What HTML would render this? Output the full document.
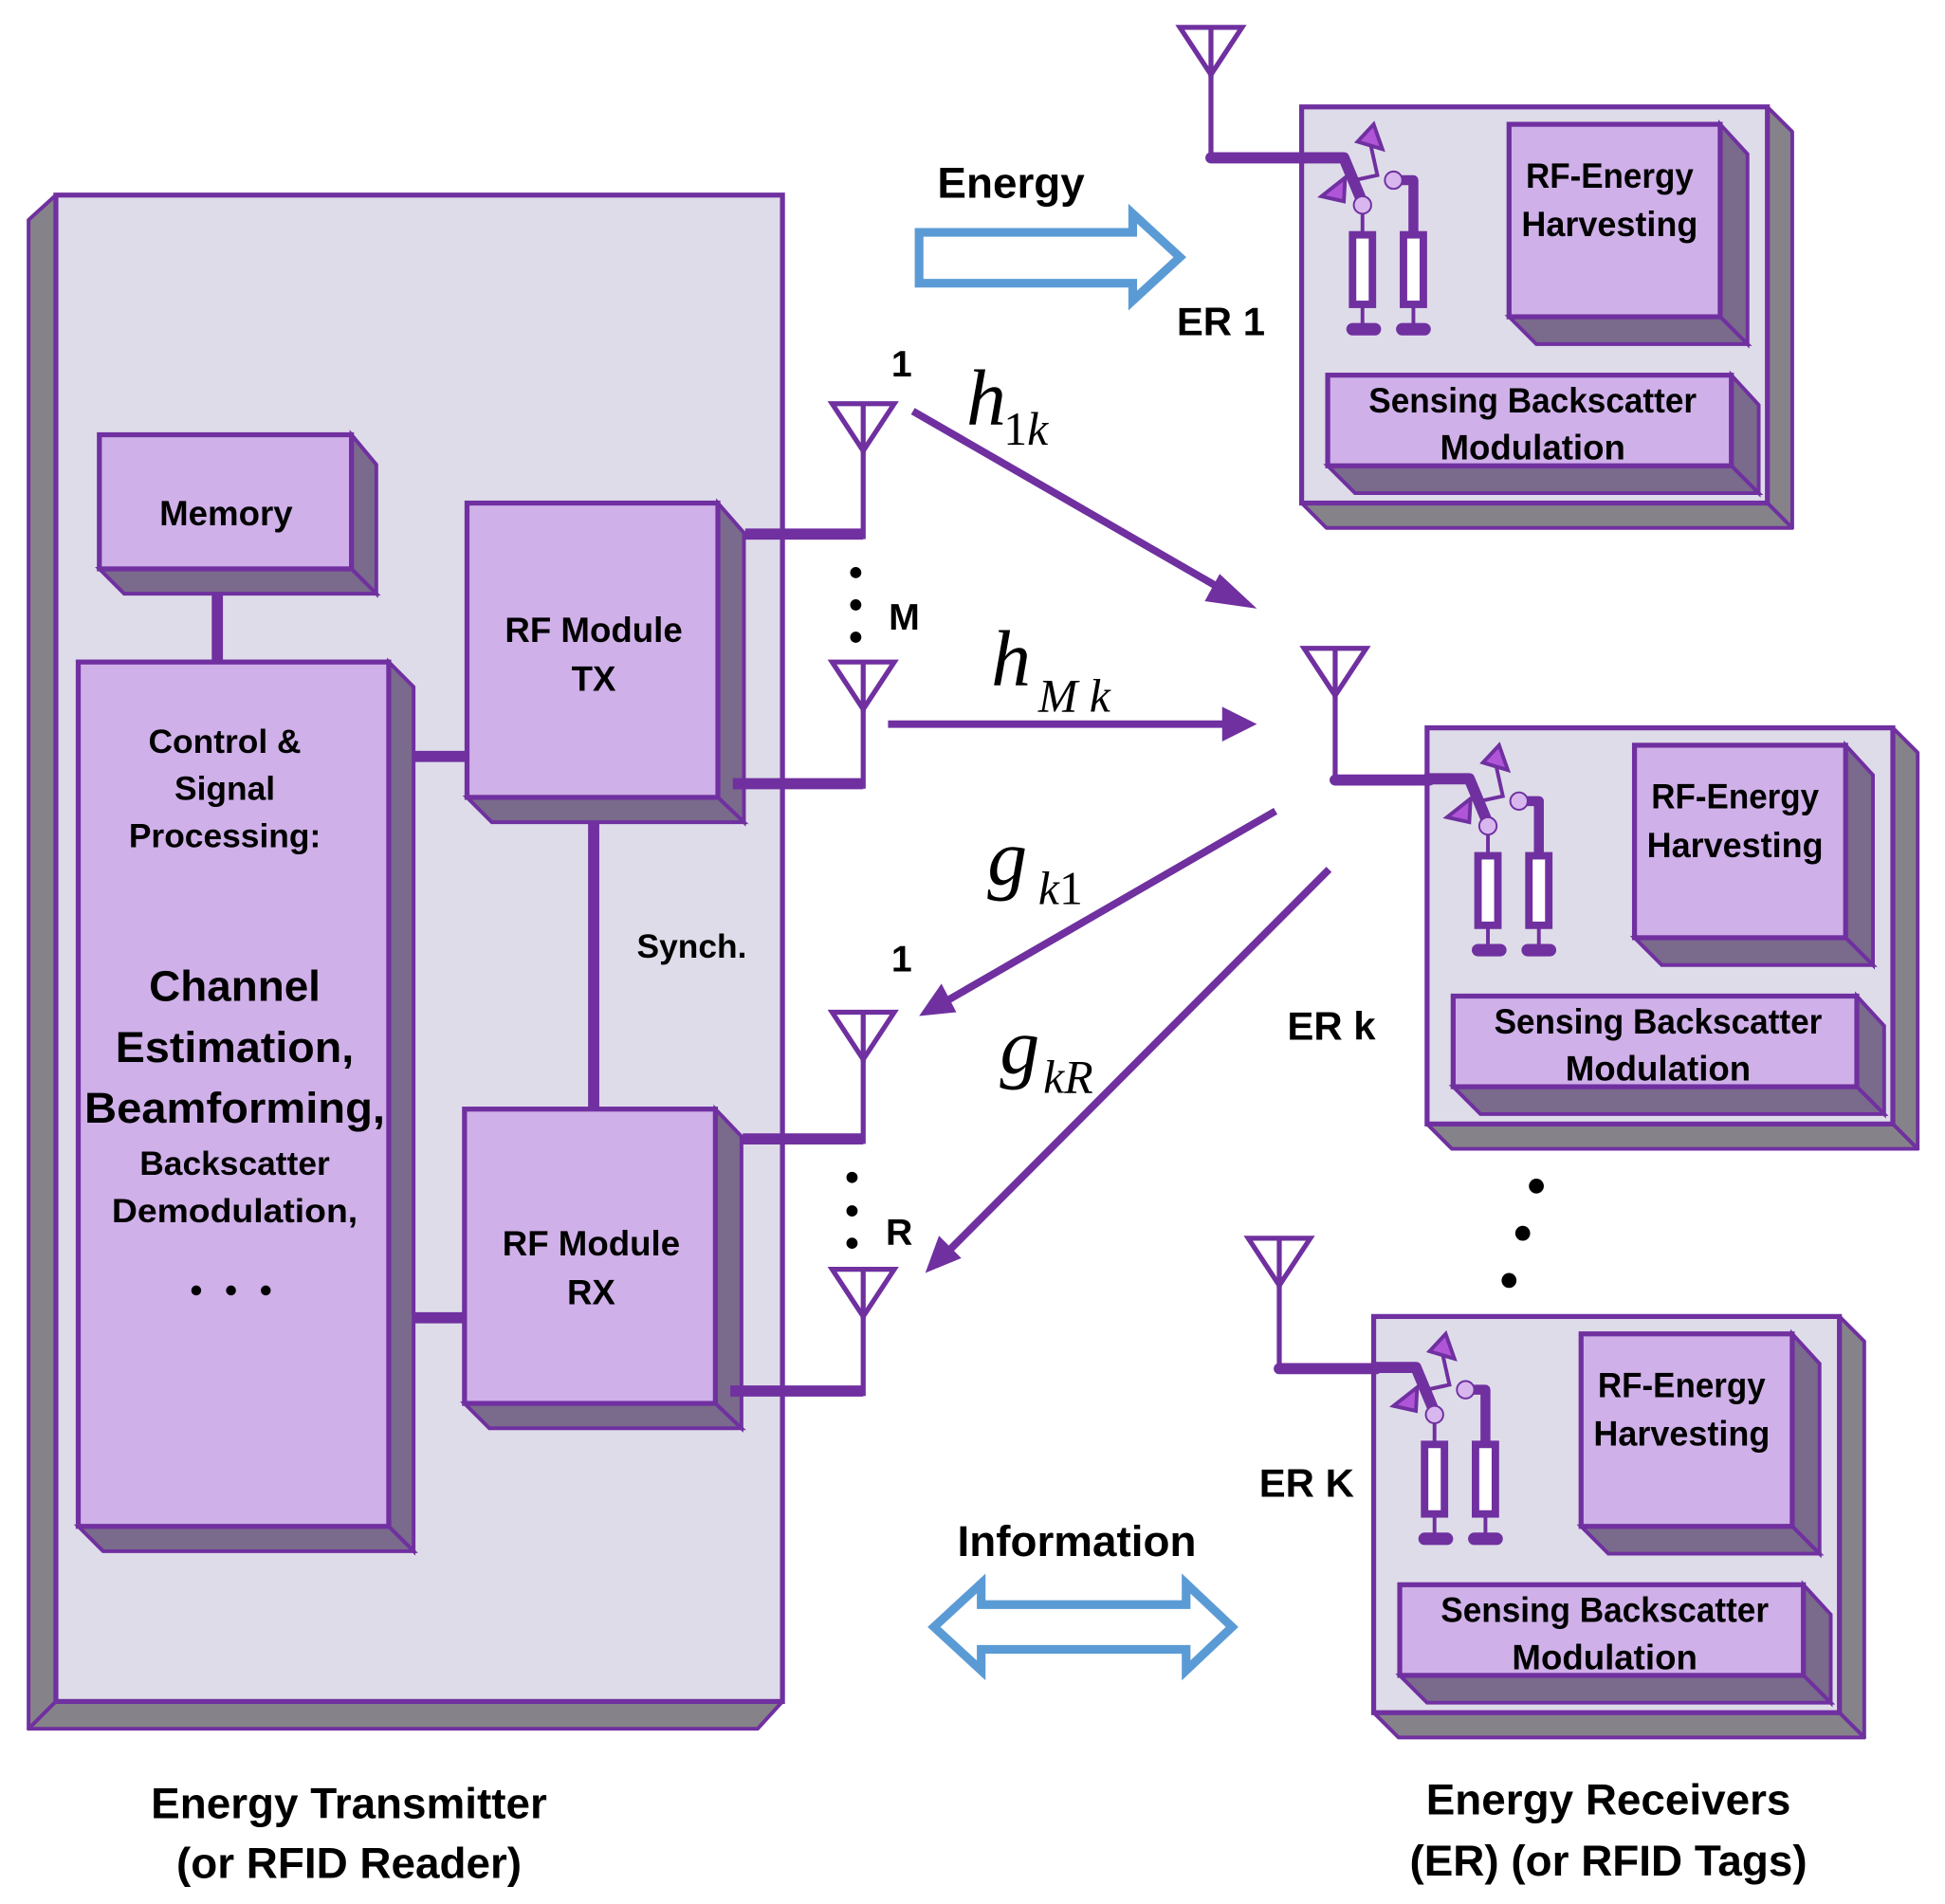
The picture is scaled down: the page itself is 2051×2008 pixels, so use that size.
<!DOCTYPE html>
<html><head><meta charset="utf-8"><style>
html,body{margin:0;padding:0;background:#fff;}
svg{display:block;}
text{font-family:"Liberation Sans",sans-serif;font-weight:bold;fill:#000;}
.m{font-family:"Liberation Serif",serif;font-style:italic;font-weight:normal;}
</style></head><body>
<svg width="2051" height="2008" viewBox="0 0 1566 1533" xmlns="http://www.w3.org/2000/svg">
<defs>
<g id="er">
  <polygon points="375,0 395,20 395,339 375,319" fill="#858389" stroke="#7030a0" stroke-width="3" stroke-linejoin="round"/>
  <polygon points="0,319 375,319 395,339 20,339" fill="#858389" stroke="#7030a0" stroke-width="3" stroke-linejoin="round"/>
  <rect x="0" y="0" width="375" height="319" fill="#dedce9" stroke="#7030a0" stroke-width="4"/>
  <polygon points="337,14 359,38 359,191 337,169" fill="#7a6a8b" stroke="#7030a0" stroke-width="3"/>
  <polygon points="167,169 337,169 359,191 189,191" fill="#7a6a8b" stroke="#7030a0" stroke-width="3"/>
  <rect x="167" y="14" width="170" height="155" fill="#cfb0e8" stroke="#7030a0" stroke-width="4"/>
  <polygon points="346,216 368,240 368,311 346,289" fill="#7a6a8b" stroke="#7030a0" stroke-width="3"/>
  <polygon points="21,289 346,289 368,311 43,311" fill="#7a6a8b" stroke="#7030a0" stroke-width="3"/>
  <rect x="21" y="216" width="325" height="73" fill="#cfb0e8" stroke="#7030a0" stroke-width="4"/>
  <polyline points="-2,41 34,41 49,77" fill="none" stroke="#7030a0" stroke-width="9" stroke-linejoin="round"/>
  <polyline points="38,60 61,55 55,28" fill="none" stroke="#7030a0" stroke-width="3"/>
  <polygon points="45,28 58,14 65,34" fill="#b055d8" stroke="#7030a0" stroke-width="3"/>
  <polygon points="16,72 35,57 34,76" fill="#b055d8" stroke="#7030a0" stroke-width="3"/>
  <circle cx="49" cy="79" r="7" fill="#d8b6ee" stroke="#7030a0" stroke-width="1.5"/>
  <line x1="49" y1="86" x2="49" y2="103" stroke="#7030a0" stroke-width="3"/>
  <rect x="41" y="103" width="16" height="56" fill="#fff" stroke="#7030a0" stroke-width="6"/>
  <line x1="49" y1="159" x2="49" y2="176" stroke="#7030a0" stroke-width="3"/>
  <rect x="36" y="174" width="28" height="10" rx="5" fill="#7030a0"/>
  <polyline points="78,59 90,59 90,103" fill="none" stroke="#7030a0" stroke-width="8" stroke-linejoin="round"/>
  <circle cx="74" cy="59" r="7" fill="#d8b6ee" stroke="#7030a0" stroke-width="1.5"/>
  <rect x="82" y="103" width="16" height="56" fill="#fff" stroke="#7030a0" stroke-width="6"/>
  <line x1="90" y1="159" x2="90" y2="176" stroke="#7030a0" stroke-width="3"/>
  <rect x="76" y="174" width="28" height="10" rx="5" fill="#7030a0"/>
</g>
<g id="ant">
  <polygon points="-25,0 25,0 0,38" fill="none" stroke="#7030a0" stroke-width="4" stroke-linejoin="miter"/>
  <line x1="0" y1="0" x2="0" y2="40" stroke="#7030a0" stroke-width="4"/>
</g>
</defs>

<polygon points="45,157 23,177 23,1392 45,1370" fill="#858389" stroke="#7030a0" stroke-width="3" stroke-linejoin="round"/>
<polygon points="45,1370 630,1370 610,1392 23,1392" fill="#858389" stroke="#7030a0" stroke-width="3" stroke-linejoin="round"/>
<rect x="45" y="157" width="585" height="1213" fill="#dedce9" stroke="#7030a0" stroke-width="4"/>

<line x1="175" y1="462" x2="175" y2="535" stroke="#7030a0" stroke-width="9" stroke-linecap="round"/>
<line x1="322" y1="609" x2="378" y2="609" stroke="#7030a0" stroke-width="9" stroke-linecap="round"/>
<line x1="322" y1="1061" x2="378" y2="1061" stroke="#7030a0" stroke-width="9" stroke-linecap="round"/>
<line x1="478" y1="652" x2="478" y2="893" stroke="#7030a0" stroke-width="9" stroke-linecap="round"/>

<polygon points="283,350 303,374 303,478 283,458" fill="#7a6a8b" stroke="#7030a0" stroke-width="3"/>
<polygon points="80,458 283,458 303,478 100,478" fill="#7a6a8b" stroke="#7030a0" stroke-width="3"/>
<rect x="80" y="350" width="203" height="108" fill="#cfb0e8" stroke="#7030a0" stroke-width="4"/>
<polygon points="313,533 333,553 333,1249 313,1229" fill="#7a6a8b" stroke="#7030a0" stroke-width="3"/>
<polygon points="63,1229 313,1229 333,1249 83,1249" fill="#7a6a8b" stroke="#7030a0" stroke-width="3"/>
<rect x="63" y="533" width="250" height="696" fill="#cfb0e8" stroke="#7030a0" stroke-width="4"/>
<polygon points="578,405 599,429 599,662 578,642" fill="#7a6a8b" stroke="#7030a0" stroke-width="3"/>
<polygon points="376,642 578,642 599,662 396,662" fill="#7a6a8b" stroke="#7030a0" stroke-width="3"/>
<rect x="376" y="405" width="202" height="237" fill="#cfb0e8" stroke="#7030a0" stroke-width="4"/>
<polygon points="576,893 597,915 597,1150 576,1130" fill="#7a6a8b" stroke="#7030a0" stroke-width="3"/>
<polygon points="374,1130 576,1130 597,1150 394,1150" fill="#7a6a8b" stroke="#7030a0" stroke-width="3"/>
<rect x="374" y="893" width="202" height="237" fill="#cfb0e8" stroke="#7030a0" stroke-width="4"/>

<g fill="none" stroke="#7030a0" stroke-width="9" stroke-linejoin="miter">
<polyline points="600,430 695,430"/>
<polyline points="590,631 695,631"/>
<polyline points="598,917 695,917"/>
<polyline points="588,1120 695,1120"/>
</g>
<g stroke="#7030a0" stroke-width="4">
<line x1="695" y1="360" x2="695" y2="434"/>
<line x1="695" y1="568" x2="695" y2="635"/>
<line x1="695" y1="850" x2="695" y2="921"/>
<line x1="695" y1="1057" x2="695" y2="1124"/>
</g>
<use href="#ant" x="695" y="325"/>
<use href="#ant" x="695" y="533"/>
<use href="#ant" x="695" y="815"/>
<use href="#ant" x="695" y="1022"/>

<use href="#er" x="1048" y="86"/>
<use href="#er" x="1149" y="586"/>
<use href="#er" x="1106" y="1060"/>

<g fill="none" stroke="#7030a0" stroke-width="4">
<line x1="975" y1="55" x2="975" y2="127"/>
<line x1="1075" y1="557" x2="1075" y2="628"/>
<line x1="1030" y1="1032" x2="1030" y2="1102"/>
</g>
<g stroke="#7030a0" stroke-width="9" stroke-linecap="round">
<line x1="975" y1="127" x2="1050" y2="127"/>
<line x1="1075" y1="628" x2="1151" y2="628"/>
<line x1="1030" y1="1102" x2="1108" y2="1102"/>
</g>
<use href="#ant" x="975" y="22"/>
<use href="#ant" x="1075" y="522"/>
<use href="#ant" x="1030" y="997"/>

<g stroke="#7030a0" stroke-width="6" fill="#7030a0">
<line x1="735" y1="331" x2="990" y2="478"/>
<polygon points="1012,490 982,462 970,484" stroke="none"/>
<line x1="715" y1="583" x2="985" y2="583"/>
<polygon points="1012,583 984,569 984,597" stroke="none"/>
<line x1="1027" y1="653" x2="762" y2="806"/>
<polygon points="740,818 758,792 770,815" stroke="none"/>
<line x1="1070" y1="700" x2="765" y2="1006"/>
<polygon points="745,1025 756,995 774,1013" stroke="none"/>
</g>

<polygon points="740,187 912,187 912,172 950,207 912,242 912,228 740,228" fill="#fff" stroke="#5b9bd5" stroke-width="7" stroke-linejoin="miter"/>
<polygon points="752,1310 790,1275 790,1292 955,1292 955,1275 992,1310 955,1345 955,1328 790,1328 790,1345" fill="#fff" stroke="#5b9bd5" stroke-width="7" stroke-linejoin="miter"/>

<g fill="#000">
<circle cx="689" cy="461" r="4.5"/><circle cx="689" cy="487" r="4.5"/><circle cx="689" cy="513" r="4.5"/>
<circle cx="686" cy="948" r="4.5"/><circle cx="686" cy="975" r="4.5"/><circle cx="686" cy="1001" r="4.5"/>
<circle cx="1237" cy="955" r="6"/><circle cx="1226" cy="993" r="6"/><circle cx="1215" cy="1031" r="6"/>
<circle cx="158" cy="1039" r="4"/><circle cx="186" cy="1039" r="4"/><circle cx="214" cy="1039" r="4"/>
</g>

<g text-anchor="middle">
<text x="182" y="423" font-size="28">Memory</text>
<text x="478" y="517" font-size="28">RF Module</text>
<text x="478" y="556" font-size="28">TX</text>
<text x="476" y="1011" font-size="28">RF Module</text>
<text x="476" y="1050" font-size="28">RX</text>
<text x="181" y="606" font-size="27">Control &amp;</text>
<text x="181" y="644" font-size="27">Signal</text>
<text x="181" y="682" font-size="27">Processing:</text>
<text x="189" y="806" font-size="35">Channel</text>
<text x="189" y="855" font-size="35" textLength="192" lengthAdjust="spacingAndGlyphs">Estimation,</text>
<text x="189" y="904" font-size="35" textLength="242" lengthAdjust="spacingAndGlyphs">Beamforming,</text>
<text x="189" y="946" font-size="27">Backscatter</text>
<text x="189" y="984" font-size="27" textLength="198" lengthAdjust="spacingAndGlyphs">Demodulation,</text>
<text x="557" y="771" font-size="27">Synch.</text>
<text x="814" y="159" font-size="35">Energy</text>
<text x="867" y="1253" font-size="35">Information</text>
<text x="983" y="270" font-size="32">ER 1</text>
<text x="1072" y="837" font-size="32">ER k</text>
<text x="1052" y="1205" font-size="32">ER K</text>
<text x="726" y="303" font-size="30">1</text>
<text x="728" y="507" font-size="30">M</text>
<text x="726" y="782" font-size="30">1</text>
<text x="724" y="1002" font-size="30">R</text>
<text x="281" y="1464" font-size="35">Energy Transmitter</text>
<text x="281" y="1512" font-size="35">(or RFID Reader)</text>
<text x="1295" y="1461" font-size="35">Energy Receivers</text>
<text x="1295" y="1510" font-size="35">(ER) (or RFID Tags)</text>
</g>
<g text-anchor="middle" font-size="28">
<text x="1296" y="151" textLength="135" lengthAdjust="spacingAndGlyphs">RF-Energy</text>
<text x="1296" y="190" textLength="142" lengthAdjust="spacingAndGlyphs">Harvesting</text>
<text x="1234" y="332" textLength="264" lengthAdjust="spacingAndGlyphs">Sensing Backscatter</text>
<text x="1234" y="370">Modulation</text>
<text x="1397" y="651" textLength="135" lengthAdjust="spacingAndGlyphs">RF-Energy</text>
<text x="1397" y="690" textLength="142" lengthAdjust="spacingAndGlyphs">Harvesting</text>
<text x="1335" y="832" textLength="264" lengthAdjust="spacingAndGlyphs">Sensing Backscatter</text>
<text x="1335" y="870">Modulation</text>
<text x="1354" y="1125" textLength="135" lengthAdjust="spacingAndGlyphs">RF-Energy</text>
<text x="1354" y="1164" textLength="142" lengthAdjust="spacingAndGlyphs">Harvesting</text>
<text x="1292" y="1306" textLength="264" lengthAdjust="spacingAndGlyphs">Sensing Backscatter</text>
<text x="1292" y="1344">Modulation</text>
</g>
<text class="m" x="778" y="342" font-size="64">h</text>
<text class="m" x="808" y="358" font-size="38"><tspan font-style="normal">1</tspan>k</text>
<text class="m" x="798" y="552" font-size="64">h</text>
<text class="m" x="836" y="573" font-size="38">M k</text>
<text class="m" x="795" y="712" font-size="64">g</text>
<text class="m" x="836" y="728" font-size="38">k<tspan font-style="normal">1</tspan></text>
<text class="m" x="805" y="864" font-size="64">g</text>
<text class="m" x="840" y="880" font-size="38">kR</text>
</svg>
</body></html>
